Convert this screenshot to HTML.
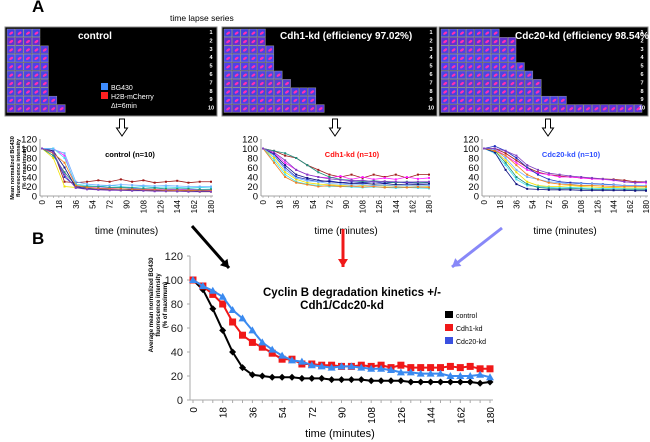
<!DOCTYPE html>
<html><head><meta charset="utf-8">
<style>
body{margin:0;background:#fff;}
svg{display:block;font-family:"Liberation Sans",Arial,sans-serif;}
</style></head>
<body>
<svg id="fig" width="650" height="442" viewBox="0 0 650 442">
<text x="32" y="12" font-size="17" font-weight="bold">A</text>
<text x="170" y="21" font-size="8.5">time lapse series</text>
<text x="32" y="244" font-size="17" font-weight="bold">B</text>
<g id="panels"></g>
<g id="smalls"></g>
<g id="main"></g>
</svg>
<script>
// ===== main chart data =====
const times=[0,6,12,18,24,30,36,42,48,54,60,66,72,78,84,90,96,102,108,114,120,126,132,138,144,150,156,162,168,174,180];
const controlVals=[100,92,76,58,40,27,21,20,19,19,19,18,18,18,17,17,17,17,16,16,16,16,15,15,15,15,15,15,15,14,15];
const cdh1Vals=[100,95,88,80,65,54,48,44,39,34,34,30,30,29,29,28,28,29,28,29,27,29,27,27,27,27,28,27,28,26,26];
const cdc20Vals=[100,95,91,86,75,68,58,48,42,37,33,32,29,28,27,28,28,27,26,26,25,23,23,22,22,22,20,20,20,21,19];
const yTicks=[0,20,40,60,80,100,120];
const xTickLabels=[0,18,36,54,72,90,108,126,144,162,180];
// ===== small chart data (every 12 min) =====
const sTimes=[0,12,24,36,48,60,72,84,96,108,120,132,144,156,168,180];
const ctrlSeries=[
[100,95,30,28,30,33,30,35,30,33,28,30,32,28,30,30],
[100,100,85,20,18,17,16,15,15,14,14,13,14,13,12,12],
[100,90,40,20,17,16,15,15,14,13,13,12,12,11,12,11],
[100,80,20,18,15,14,14,12,12,12,11,10,10,10,9,9],
[100,100,80,25,22,20,22,20,18,20,18,19,18,17,18,17],
[100,85,50,22,20,20,18,18,17,16,17,15,15,15,14,14],
[100,95,60,18,15,14,13,12,13,12,11,11,10,11,10,10],
[100,98,90,30,25,23,22,24,23,22,21,22,21,20,20,20],
[100,90,70,22,18,16,15,15,14,13,13,12,12,12,11,11],
[100,92,45,17,14,13,12,12,11,11,10,10,10,9,9,9]];
const cdh1Series=[
[100,95,85,80,65,55,45,40,45,38,45,40,45,38,45,45],
[100,90,70,55,45,40,38,42,35,40,35,38,35,40,36,38],
[100,85,60,40,35,30,32,28,30,28,30,27,29,28,27,28],
[100,80,50,35,28,25,24,22,24,22,23,21,22,21,22,20],
[100,75,45,30,25,22,20,20,19,18,19,18,17,18,17,16],
[100,95,90,80,65,50,40,35,33,30,32,30,28,30,28,29],
[100,88,65,45,38,33,30,28,26,27,25,26,24,25,24,25],
[100,85,55,38,32,30,26,25,23,24,22,23,21,22,21,22],
[100,70,40,28,24,20,22,20,21,19,20,18,19,18,19,18],
[100,92,75,55,45,40,36,34,32,33,30,31,30,29,30,30]];
const cdc20Series=[
[100,100,90,75,60,50,45,42,40,38,37,36,35,33,30,30],
[100,98,85,70,55,48,45,40,40,38,36,35,33,30,28,28],
[100,105,95,80,60,45,35,30,28,27,26,25,24,22,22,21],
[100,95,75,50,30,22,20,20,22,20,19,18,18,17,17,17],
[100,90,65,35,22,20,18,17,18,17,16,16,16,15,15,15],
[100,95,70,40,25,18,16,15,16,15,14,14,13,13,13,13],
[100,92,55,25,15,14,13,13,13,12,12,12,12,12,11,11],
[100,98,80,55,40,35,30,28,25,26,25,24,23,22,22,22],
[100,95,85,65,45,35,28,25,24,22,22,21,20,20,20,20],
[100,100,95,85,65,55,48,45,42,40,38,36,34,30,28,30]];

const NS='http://www.w3.org/2000/svg';
function mk(tag,attrs,parent,name,inter){const e=document.createElementNS(NS,tag);for(const k in attrs)e.setAttribute(k,attrs[k]);


parent.appendChild(e);return e;}
function txt(s,attrs,parent,name){const t=mk('text',attrs,parent,name,false);t.textContent=s;return t;}

// ===== image panels =====
const panels=document.getElementById('panels');
const panelDefs=[
 {x:5,w:212,title:'control',tx:78,rows:[4,4,5,5,5,5,5,5,6,7],name:'control'},
 {x:222,w:215,title:'Cdh1-kd (efficiency 97.02%)',tx:280,rows:[5,5,6,6,6,7,8,11,11,12],name:'cdh1'},
 {x:439,w:209,title:'Cdc20-kd (efficiency 98.54%)',tx:515,rows:[7,9,9,9,10,11,12,12,15,24],name:'cdc20'}];
const rowCols=['#4040e0','#6030d0','#5040e0','#4848f0','#5040e8','#4a48e0','#5540d0','#4840e0','#4a40e8','#5a38d8'];
panelDefs.forEach(p=>{
 const g=mk('g',{},panels,'image-panel-'+p.name,false);
 mk('rect',{x:p.x,y:27,width:p.w,height:89,fill:'#000',stroke:'#888','stroke-width':1},g,'panel-background',false);
 const cs=8.4;
 p.rows.forEach((n,ri)=>{
  for(let c=0;c<n;c++){
   const cx=p.x+2+c*cs, cy=29+ri*cs;
   if(cx+cs>p.x+p.w-2) break;
   mk('rect',{x:cx,y:cy,width:cs-0.6,height:cs-0.6,fill:rowCols[ri],stroke:'#999','stroke-width':0.5},g,'cell-frame',false);
   mk('ellipse',{cx:cx+cs/2,cy:cy+cs/2,rx:2.2,ry:1.2,fill:'#ff2fb0',transform:`rotate(-35 ${cx+cs/2} ${cy+cs/2})`},g,'cell-nucleus',false);
  }
  txt(String(ri+1),{x:p.x+p.w-6,y:32+ri*cs+2,'font-size':5.5,fill:'#fff','text-anchor':'middle','font-weight':'bold'},g,'row-number');
 });
 txt(p.title,{x:p.tx,y:39,'font-size':10,'font-weight':'bold',fill:'#fff'},g,'panel-title');
});
// legend in control panel
const lg=mk('g',{},panels,'panel-legend',false);
mk('rect',{x:101,y:83,width:7,height:7,fill:'#3d8cff'},lg,'legend-swatch-bg430',false);
txt('BG430',{x:111,y:90,'font-size':7,fill:'#fff'},lg,'legend-bg430');
mk('rect',{x:101,y:92,width:7,height:7,fill:'#ff2020'},lg,'legend-swatch-h2b',false);
txt('H2B-mCherry',{x:111,y:99,'font-size':7,fill:'#fff'},lg,'legend-h2b');
txt('Δt=6min',{x:111,y:108,'font-size':7,fill:'#fff'},lg,'legend-dt');

// hollow down arrows
function hollowArrow(x,y,name){
 mk('path',{d:`M${x-2.5} ${y} h5 v9 h3 l-5.5 8 l-5.5 -8 h3 z`,fill:'#fff',stroke:'#000','stroke-width':1},panels,name,false);
}
hollowArrow(122,119,'arrow-control');hollowArrow(335,119,'arrow-cdh1');hollowArrow(548,119,'arrow-cdc20');

// ===== small charts =====
const smalls=document.getElementById('smalls');
const serCols=['#a01818','#ff20ff','#2030c0','#f0e000','#40e0f0','#209080','#101080','#70b0ff','#f08020','#8040c0'];
const smallDefs=[
 {x0:42,x1:211,series:ctrlSeries,label:'control (n=10)',lc:'#000',lx:130,name:'control'},
 {x0:263,x1:429,series:cdh1Series,label:'Cdh1-kd (n=10)',lc:'#ff1010',lx:352,name:'cdh1'},
 {x0:484,x1:646,series:cdc20Series,label:'Cdc20-kd (n=10)',lc:'#3050ff',lx:571,name:'cdc20'}];
smallDefs.forEach(d=>{
 const g=mk('g',{},smalls,'small-chart-'+d.name,false);
 const yb=196,yt=139;
 const X=v=>d.x0+(d.x1-d.x0)*v/180, Y=v=>yb-(yb-yt)*v/120;
 mk('line',{x1:d.x0-2,y1:yt,x2:d.x0-2,y2:yb,stroke:'#888','stroke-width':0.8},g,'y-axis',false);
 mk('line',{x1:d.x0-2,y1:yb,x2:d.x1+2,y2:yb,stroke:'#888','stroke-width':0.8},g,'x-axis',false);
 yTicks.forEach(t=>{txt(String(t),{x:d.x0-5,y:Y(t)+3.5,'font-size':9.5,'text-anchor':'end'},g,'y-tick-label');});
 for(let t=0;t<=180;t+=6){mk('line',{x1:X(t),y1:yb,x2:X(t),y2:yb+2,stroke:'#888','stroke-width':0.5},g,'x-tick',false);}
 xTickLabels.forEach(t=>{txt(String(t),{x:0,y:0,'font-size':8,'text-anchor':'end',transform:`translate(${X(t)+3},${yb+4}) rotate(-90)`},g,'x-tick-label');});
 txt('time (minutes)',{x:(d.x0+d.x1)/2,y:234,'font-size':10,'text-anchor':'middle'},g,'x-axis-title');
 d.series.forEach((s,i)=>{
  const pts=s.map((v,j)=>X(sTimes[j])+','+Y(v)).join(' ');
  mk('polyline',{points:pts,fill:'none',stroke:serCols[i],'stroke-width':0.8},g,'series-line-'+(i+1),false);
  s.forEach((v,j)=>{mk('rect',{x:X(sTimes[j])-1,y:Y(v)-1,width:2,height:2,fill:serCols[i]},g,'series-point',false);});
 });
 txt(d.label,{x:d.lx,y:157,'font-size':7.5,'font-weight':'bold',fill:d.lc,'text-anchor':'middle'},g,'small-chart-label');
});
const yt1=txt('',{x:0,y:0,'font-size':5.5,'font-weight':'bold','text-anchor':'middle',transform:'translate(14,168) rotate(-90)'},smalls,'small-y-axis-title');
['Mean normalized BG430','fluorescence intensity','(% of maximum)'].forEach((l,i)=>{const ts=mk('tspan',{x:0,dy:i?6:0},yt1,'y-title-line',false);ts.textContent=l;});

// ===== main chart =====
const main=document.getElementById('main');
const mx0=193,mx1=490,myb=400,myt=256;
const MX=v=>mx0+(mx1-mx0)*v/180, MY=v=>myb-(myb-myt)*v/120;
mk('line',{x1:190,y1:myt,x2:190,y2:myb,stroke:'#aaa','stroke-width':1},main,'main-y-axis',false);
mk('line',{x1:190,y1:myb,x2:493,y2:myb,stroke:'#aaa','stroke-width':1},main,'main-x-axis',false);
yTicks.forEach(t=>{
 mk('line',{x1:187,y1:MY(t),x2:190,y2:MY(t),stroke:'#aaa','stroke-width':1},main,'main-y-tick',false);
 txt(String(t),{x:183,y:MY(t)+4,'font-size':11,'text-anchor':'end',fill:'#222'},main,'main-y-tick-label');});
for(let t=0;t<=180;t+=6){mk('line',{x1:MX(t),y1:myb,x2:MX(t),y2:myb+3,stroke:'#aaa','stroke-width':1},main,'main-x-tick',false);}
xTickLabels.forEach(t=>{txt(String(t),{x:0,y:0,'font-size':10,'text-anchor':'end',transform:`translate(${MX(t)+4},${myb+7}) rotate(-90)`},main,'main-x-tick-label');});
txt('time (minutes)',{x:340,y:437,'font-size':11,'text-anchor':'middle'},main,'main-x-axis-title');
const myt1=txt('',{x:0,y:0,'font-size':6,'font-weight':'bold','text-anchor':'middle',transform:'translate(153,305) rotate(-90)'},main,'main-y-axis-title');
['Average mean normalized BG430','fluorescence intensity','(% of maximum)'].forEach((l,i)=>{const ts=mk('tspan',{x:0,dy:i?7:0},myt1,'y-title-line',false);ts.textContent=l;});
function series(vals,col,shape,name){
 const g=mk('g',{},main,name,false);
 mk('polyline',{points:vals.map((v,i)=>MX(times[i])+','+MY(v)).join(' '),fill:'none',stroke:col,'stroke-width':2},g,name+'-line',false);
 vals.forEach((v,i)=>{const x=MX(times[i]),y=MY(v);
  if(shape==='d') mk('path',{d:`M${x} ${y-3.5} l3.5 3.5 l-3.5 3.5 l-3.5 -3.5z`,fill:col},g,name+'-point',false);
  else if(shape==='s') mk('rect',{x:x-3.5,y:y-3.5,width:7,height:7,fill:col},g,name+'-point',false);
  else mk('path',{d:`M${x} ${y-4} l4 7 h-8z`,fill:col},g,name+'-point',false);});
}
series(controlVals,'#000','d','series-control');
series(cdh1Vals,'#f01818','s','series-cdh1');
series(cdc20Vals,'#3a8af0','t','series-cdc20');
txt('Cyclin B degradation kinetics +/-',{x:352,y:296,'font-size':11.5,'font-weight':'bold','text-anchor':'middle'},main,'main-title-line1');
txt('Cdh1/Cdc20-kd',{x:342,y:309,'font-size':11.5,'font-weight':'bold','text-anchor':'middle'},main,'main-title-line2');
const leg=[['control','#000'],['Cdh1-kd','#f01818'],['Cdc20-kd','#3a50e0']];
leg.forEach((l,i)=>{mk('rect',{x:445,y:311+i*13,width:8,height:7,fill:l[1]},main,'legend-swatch-'+i,false);
 txt(l[0],{x:456,y:318+i*13,'font-size':7},main,'legend-entry');});
// arrows
function arrow(x1,y1,x2,y2,col,name){
 mk('line',{x1,y1,x2,y2,stroke:col,'stroke-width':3},main,name,false);
 const a=Math.atan2(y2-y1,x2-x1),L=8,W=5;
 const bx=x2-L*Math.cos(a),by=y2-L*Math.sin(a);
 mk('path',{d:`M${x2} ${y2} L${bx+W*Math.sin(a)} ${by-W*Math.cos(a)} L${bx-W*Math.sin(a)} ${by+W*Math.cos(a)}z`,fill:col},main,name+'-head',false);
}
arrow(192,226,229,268,'#000','arrow-black');
arrow(343,229,343,267,'#f01818','arrow-red');
arrow(502,228,452,267,'#8888f8','arrow-blue');
</script>
</body></html>
